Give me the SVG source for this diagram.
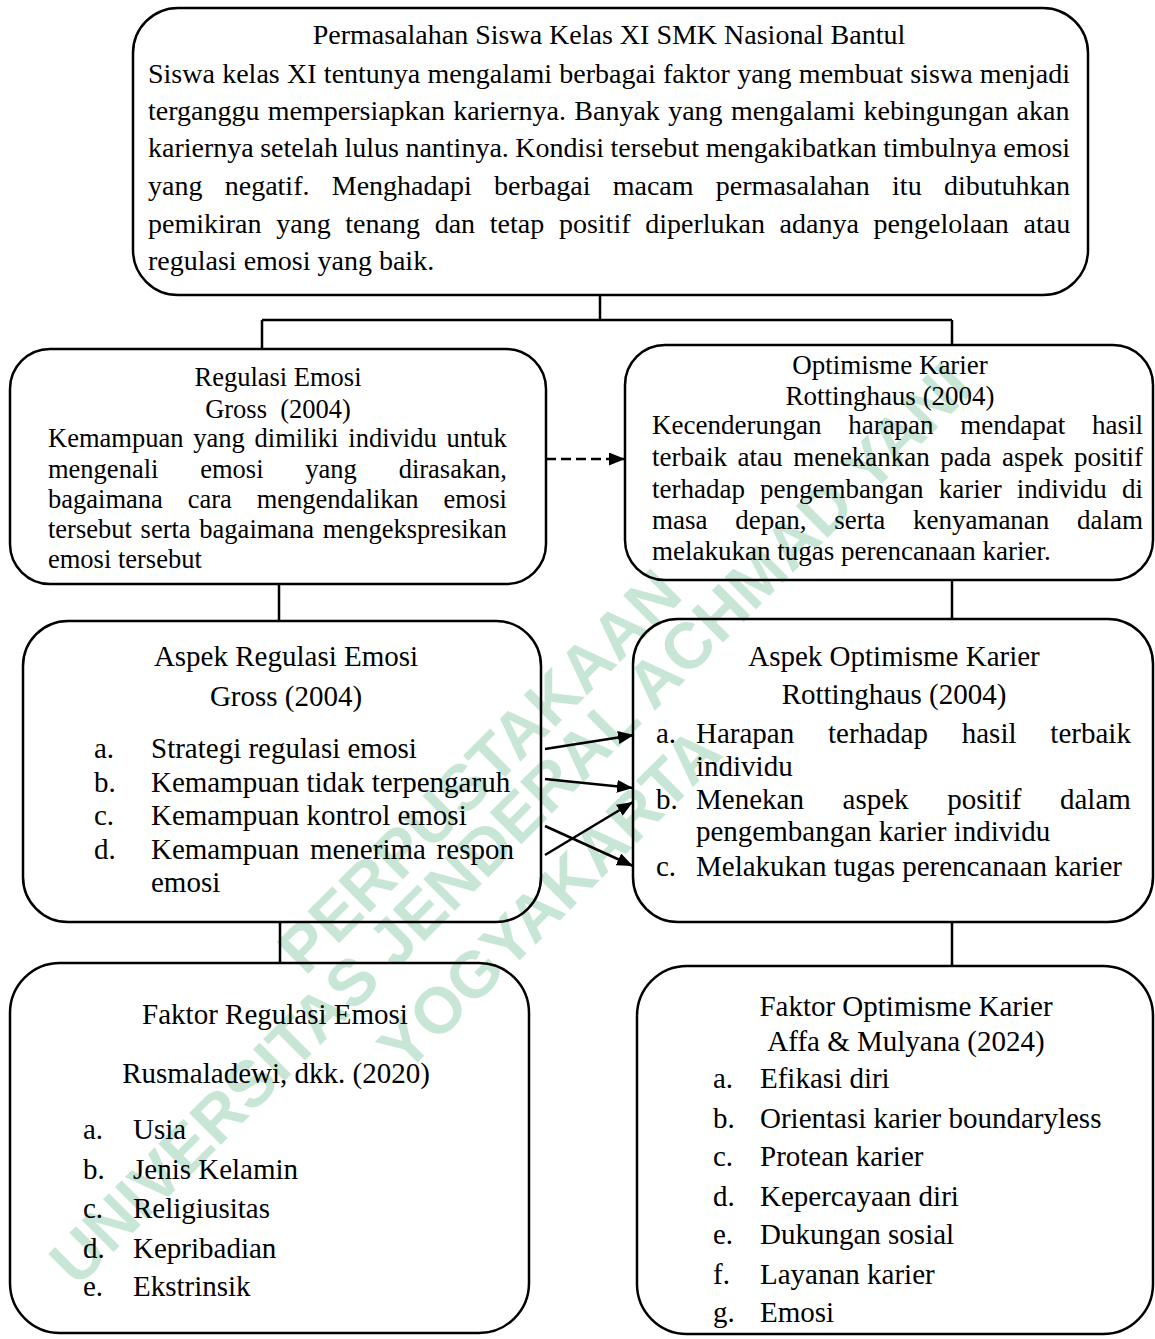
<svg xmlns="http://www.w3.org/2000/svg" width="1155" height="1339" viewBox="0 0 1155 1339">
<style>
.t{font-family:"Liberation Serif","Times New Roman",serif;fill:#000}
.s28{font-size:28px}.s27{font-size:27px}.s265{font-size:26.5px}.s29{font-size:29px}
.m{text-anchor:middle}
.box{fill:none;stroke:#000;stroke-width:2.5}
.c{fill:none;stroke:#000;stroke-width:2.5}
.wm{font-family:"Liberation Sans",Arial,sans-serif;font-weight:bold;font-size:65px;fill:#c8e6d5;text-anchor:middle}
</style>
<defs>
<marker id="ah" markerUnits="userSpaceOnUse" markerWidth="16" markerHeight="13" refX="16" refY="6.5" orient="auto">
<path d="M0,0 L16,6.5 L0,13 z" fill="#000"/>
</marker>
</defs>
<rect width="1155" height="1339" fill="#fff"/>
<g id="watermark" transform="rotate(-45 510 830)">
<text class="wm" x="530" y="789">PERPUSTAKAAN</text>
<text class="wm" x="515" y="848">UNIVERSITAS JENDERAL ACHMAD YANI</text>
<text class="wm" x="489" y="929">YOGYAKARTA</text>
</g>
<g id="connectors">
<path class="c" d="M600,295 V320 M262,320 H952 M262,320 V349 M952,320 V345"/>
<path class="c" d="M279,584 V621 M952,580 V619 M280,922 V963 M952,922 V966"/>
<path class="c" d="M546,459 H625" stroke-width="3.5" stroke-dasharray="10,5" marker-end="url(#ah)"/>
<line class="c" x1="545" y1="749" x2="634" y2="735" marker-end="url(#ah)"/>
<line class="c" x1="545" y1="779" x2="633" y2="788" marker-end="url(#ah)"/>
<line class="c" x1="545" y1="826" x2="633" y2="866" marker-end="url(#ah)"/>
<line class="c" x1="545" y1="855" x2="633" y2="802" marker-end="url(#ah)"/>
</g>
<g id="top">
<rect class="box" x="133" y="8" width="955" height="287" rx="45"/>
<text class="t s28 m" x="609" y="44">Permasalahan Siswa Kelas XI SMK Nasional Bantul</text>
<text class="t s28" x="148" y="83" word-spacing="0.3">Siswa kelas XI tentunya mengalami berbagai faktor yang membuat siswa menjadi</text>
<text class="t s28" x="148" y="120" word-spacing="1.3">terganggu mempersiapkan kariernya. Banyak yang mengalami kebingungan akan</text>
<text class="t s28" x="148" y="157" word-spacing="-0.5">kariernya setelah lulus nantinya. Kondisi tersebut mengakibatkan timbulnya emosi</text>
<text class="t s28" x="148" y="195" word-spacing="15.3">yang negatif. Menghadapi berbagai macam permasalahan itu dibutuhkan</text>
<text class="t s28" x="148" y="233" word-spacing="7.7">pemikiran yang tenang dan tetap positif diperlukan adanya pengelolaan atau</text>
<text class="t s28" x="148" y="270">regulasi emosi yang baik.</text>
</g>
<g id="regulasi">
<rect class="box" x="10" y="349" width="536" height="235" rx="40"/>
<text class="t s265 m" x="278" y="386">Regulasi Emosi</text>
<text class="t s265 m" x="278" y="418">Gross&#160; (2004)</text>
<text class="t s265" x="48" y="447" word-spacing="3.2">Kemampuan yang dimiliki individu untuk</text>
<text class="t s265" x="48" y="478" word-spacing="35.2">mengenali emosi yang dirasakan,</text>
<text class="t s265" x="48" y="508" word-spacing="18.3">bagaimana cara mengendalikan emosi</text>
<text class="t s265" x="48" y="538" word-spacing="2.1">tersebut serta bagaimana mengekspresikan</text>
<text class="t s265" x="48" y="568">emosi tersebut</text>
</g>
<g id="optimisme">
<rect class="box" x="625" y="345" width="528" height="235" rx="40"/>
<text class="t s27 m" x="890" y="374">Optimisme Karier</text>
<text class="t s27 m" x="890" y="405">Rottinghaus (2004)</text>
<text class="t s27" x="652" y="434" word-spacing="20">Kecenderungan harapan mendapat hasil</text>
<text class="t s27" x="652" y="466" word-spacing="3.9">terbaik atau menekankan pada aspek positif</text>
<text class="t s27" x="652" y="498" word-spacing="8.4">terhadap pengembangan karier individu di</text>
<text class="t s27" x="652" y="529" word-spacing="21">masa depan, serta kenyamanan dalam</text>
<text class="t s27" x="652" y="560">melakukan tugas perencanaan karier.</text>
</g>
<g id="aspek-regulasi">
<rect class="box" x="23" y="621" width="518" height="301" rx="45"/>
<text class="t s29 m" x="286" y="666">Aspek Regulasi Emosi</text>
<text class="t s29 m" x="286" y="706">Gross (2004)</text>
<text class="t s29" x="94" y="758">a.</text><text class="t s29" x="151" y="758">Strategi regulasi emosi</text>
<text class="t s29" x="94" y="792">b.</text><text class="t s29" x="151" y="792">Kemampuan tidak terpengaruh</text>
<text class="t s29" x="94" y="825">c.</text><text class="t s29" x="151" y="825">Kemampuan kontrol emosi</text>
<text class="t s29" x="94" y="859">d.</text><text class="t s29" x="151" y="859" word-spacing="3.5">Kemampuan menerima respon</text>
<text class="t s29" x="151" y="892">emosi</text>
</g>
<g id="aspek-optimisme">
<rect class="box" x="633" y="619" width="520" height="303" rx="45"/>
<text class="t s29 m" x="894" y="666">Aspek Optimisme Karier</text>
<text class="t s29 m" x="894" y="704">Rottinghaus (2004)</text>
<text class="t s29" x="656" y="743">a.</text><text class="t s29" x="696" y="743" word-spacing="26.6">Harapan terhadap hasil terbaik</text>
<text class="t s29" x="696" y="776">individu</text>
<text class="t s29" x="656" y="809">b.</text><text class="t s29" x="696" y="809" word-spacing="31.4">Menekan aspek positif dalam</text>
<text class="t s29" x="696" y="841">pengembangan karier individu</text>
<text class="t s29" x="656" y="876">c.</text><text class="t s29" x="696" y="876">Melakukan tugas perencanaan karier</text>
</g>
<g id="faktor-regulasi">
<rect class="box" x="10" y="963" width="519" height="370" rx="50"/>
<text class="t s29 m" x="275" y="1024">Faktor Regulasi Emosi</text>
<text class="t s29 m" x="276" y="1083">Rusmaladewi, dkk. (2020)</text>
<text class="t s29" x="83" y="1139">a.</text><text class="t s29" x="133" y="1139">Usia</text>
<text class="t s29" x="83" y="1179">b.</text><text class="t s29" x="133" y="1179">Jenis Kelamin</text>
<text class="t s29" x="83" y="1218">c.</text><text class="t s29" x="133" y="1218">Religiusitas</text>
<text class="t s29" x="83" y="1258">d.</text><text class="t s29" x="133" y="1258">Kepribadian</text>
<text class="t s29" x="83" y="1296">e.</text><text class="t s29" x="133" y="1296">Ekstrinsik</text>
</g>
<g id="faktor-optimisme">
<rect class="box" x="637" y="966" width="516" height="368" rx="50"/>
<text class="t s29 m" x="906" y="1016">Faktor Optimisme Karier</text>
<text class="t s29 m" x="906" y="1051">Affa &amp; Mulyana (2024)</text>
<text class="t s29" x="713" y="1088">a.</text><text class="t s29" x="760" y="1088">Efikasi diri</text>
<text class="t s29" x="713" y="1128">b.</text><text class="t s29" x="760" y="1128">Orientasi karier boundaryless</text>
<text class="t s29" x="713" y="1166">c.</text><text class="t s29" x="760" y="1166">Protean karier</text>
<text class="t s29" x="713" y="1206">d.</text><text class="t s29" x="760" y="1206">Kepercayaan diri</text>
<text class="t s29" x="713" y="1244">e.</text><text class="t s29" x="760" y="1244">Dukungan sosial</text>
<text class="t s29" x="713" y="1284">f.</text><text class="t s29" x="760" y="1284">Layanan karier</text>
<text class="t s29" x="713" y="1322">g.</text><text class="t s29" x="760" y="1322">Emosi</text>
</g>
</svg>
